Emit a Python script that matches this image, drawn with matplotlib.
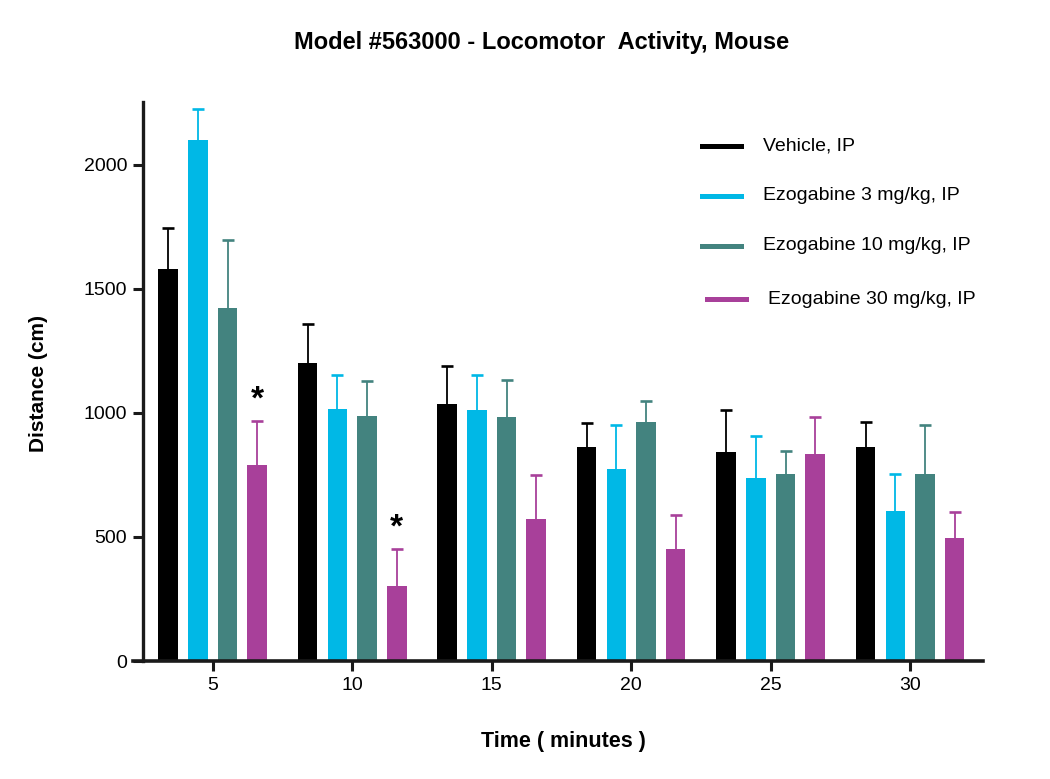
import matplotlib
matplotlib.use('Agg')
import matplotlib.pyplot as plt
from matplotlib.lines import Line2D
import numpy as np

plt.rcParams['font.family'] = ['Liberation Sans', 'DejaVu Sans']

# data
times = [5, 10, 15, 20, 25, 30]
groups = ['Vehicle, IP', 'Ezogabine 3 mg/kg, IP', 'Ezogabine 10 mg/kg, IP', 'Ezogabine 30 mg/kg, IP']
vehicle = [1580, 1200, 1035, 861, 840, 861]
vehicle_err = [163, 156, 154, 99, 173, 102]
ezo3 = [2100, 1015, 1010, 772, 739, 606]
ezo3_err = [124, 136, 143, 179, 169, 146]
ezo10 = [1421, 987, 982, 961, 755, 752]
ezo10_err = [274, 140, 148, 85, 92, 199]
ezo30 = [789, 301, 574, 452, 832, 497]
ezo30_err = [179, 152, 176, 135, 150, 102]
sig_times = [5, 10]  # asterisks on 30 mg/kg

colors = ['#000000', '#00B8E6', '#43837F', '#A8409A']
means = [vehicle, ezo3, ezo10, ezo30]
errs = [vehicle_err, ezo3_err, ezo10_err, ezo30_err]

fig = plt.figure(figsize=(10.5, 7.79), dpi=100)
W, H = 1050, 779
ax = fig.add_axes([133 / W, 118 / H, (983.3 - 133) / W, (677.3 - 118) / H])

x = np.array(times, dtype=float)
width = 0.70
pitch = 1.064
offsets = [-1.5 * pitch, -0.5 * pitch, 0.5 * pitch, 1.5 * pitch]

for i in range(4):
    m = np.array(means[i])
    e = np.array(errs[i])
    ax.bar(x + offsets[i], m, width=width, color=colors[i], zorder=2)
    # upper error only: stem + cap
    ax.vlines(x + offsets[i], m, m + e, color=colors[i], linewidth=1.3, zorder=1)
    ax.plot(x + offsets[i], m + e, linestyle='none', marker='_', markersize=8,
            markeredgewidth=1.9, color=colors[i], zorder=1)

for t in sig_times:
    k = times.index(t)
    ax.text(t + offsets[3], ezo30[k] + ezo30_err[k] + 20, '*', ha='center', va='bottom',
            fontsize=24, fontweight='bold')

ax.set_xlim(2.143, 32.62)
ax.set_ylim(0, 2253)
ax.set_xticks(times)
ax.set_yticks([0, 500, 1000, 1500, 2000])
ax.tick_params(axis='both', length=7, width=2.2, direction='out', labelsize=14, pad=4.5,
               color='#1a1a1a')

for s in ['top', 'right']:
    ax.spines[s].set_visible(False)
ax.spines['left'].set_linewidth(2.4)
ax.spines['bottom'].set_linewidth(2.6)
ax.spines['left'].set_color('#1a1a1a')
ax.spines['bottom'].set_color('#1a1a1a')
ax.spines['left'].set_position(('data', 2.513))

fig.text(542 / W, 1 - 42 / H, 'Model #563000 - Locomotor  Activity, Mouse',
         ha='center', va='center', fontsize=17, fontweight='bold')
fig.text(563 / W, 1 - 741 / H, 'Time ( minutes )', ha='center', va='center',
         fontsize=15.5, fontweight='bold')
fig.text(38 / W, 1 - 383 / H, 'Distance (cm)', ha='center', va='center',
         rotation=90, fontsize=15, fontweight='bold')

# legend drawn by hand to match the spacing of the original
leg_y = [146, 196, 246, 299]
leg_x0 = [702, 702, 702, 707]
for i in range(4):
    yy = 1 - leg_y[i] / H
    fig.add_artist(Line2D([leg_x0[i] / W, (leg_x0[i] + 39) / W], [yy, yy],
                          color=colors[i], linewidth=3.6))
    fig.text((leg_x0[i] + 61) / W, yy, groups[i], ha='left', va='center', fontsize=14)

fig.savefig('out.png', dpi=100)
plt.close(fig)
